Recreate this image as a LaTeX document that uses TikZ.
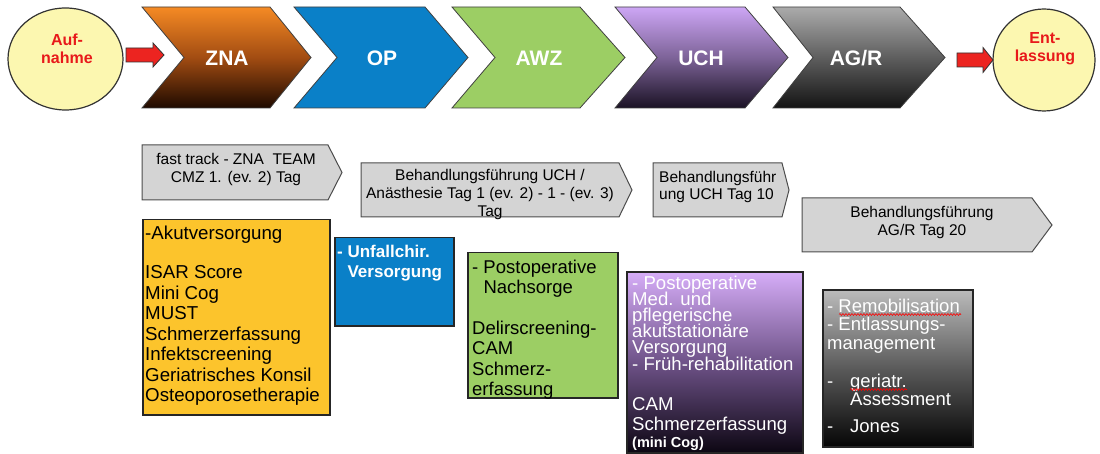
\documentclass[tikz,border=0pt]{standalone}
\usepackage{fontspec}
\setmainfont{Liberation Sans}
\usetikzlibrary{shapes.geometric,decorations.pathmorphing}
\newcommand\tightlines{\lineskiplimit=-20pt\relax}
\definecolor{ellfill}{HTML}{FCF7B0}
\definecolor{redarrow}{HTML}{EC2420}
\definecolor{redtext}{HTML}{E8191A}
\definecolor{znaTop}{HTML}{F58A24}
\definecolor{znaMid}{HTML}{A24C12}
\definecolor{znaBot}{HTML}{1E0A00}
\definecolor{opBlue}{HTML}{0A80C8}
\definecolor{awzGreen}{HTML}{9CCE64}
\definecolor{uchTop}{HTML}{CDA6F5}
\definecolor{uchMid}{HTML}{7D6398}
\definecolor{uchBot}{HTML}{1A1224}
\definecolor{agrTop}{HTML}{ABABAB}
\definecolor{agrMid}{HTML}{5E5E5E}
\definecolor{agrBot}{HTML}{141414}
\definecolor{graybox}{HTML}{D4D4D4}
\definecolor{yellowbox}{HTML}{FCC42C}
\definecolor{purpTop}{HTML}{D6ADF8}
\definecolor{purpMid}{HTML}{6E5288}
\definecolor{purpBot}{HTML}{0C0612}
\definecolor{blkTop}{HTML}{BBBBBB}
\definecolor{blkMid}{HTML}{5A5A5A}
\definecolor{blkBot}{HTML}{050505}
\begin{document}
\begin{tikzpicture}[x=1pt,y=-1pt,
  chevline/.style={draw=black!75, line width=0.8pt},
  chevlabel/.style={text=white, font=\bfseries\fontsize{21}{24}\selectfont, inner sep=0},
  ell/.style={draw=black!80, line width=1.2pt, fill=ellfill, ellipse, inner sep=0},
  elltext/.style={text=redtext, font=\bfseries\fontsize{16}{18}\selectfont, align=center, inner sep=0},
  blockarrow/.style={draw=black!80, line width=0.8pt, fill=redarrow},
  pent/.style={draw=black!70, fill=graybox, line width=1pt},
  penttext/.style={font=\fontsize{15.5}{18}\selectfont, align=center, inner sep=0},
  infobox/.style={draw=black!85, line width=1.5pt, inner sep=0, anchor=north west},
  infotext/.style={font=\fontsize{18.7}{20.5}\selectfont, align=left, inner sep=0, anchor=north west},
  squiggle/.style={draw=red, line width=0.6pt, decorate, decoration={snake, amplitude=0.9pt, segment length=3pt}}
]
\useasboundingbox (0,0) rectangle (1100,454);

% start / end ellipses
\node[ell, minimum width=115, minimum height=102] (auf) at (65.5,59) {};
\node[elltext] (aufT) at (67,49) {Auf-\\nahme};
\node[ell, minimum width=102, minimum height=102] (ent) at (1044,60) {};
\node[elltext] (entT) at (1045,49) {Ent-\\lassung};

% red block arrows
\path[blockarrow] (126,48) -- (153,48) -- (153,43) -- (164,55) -- (153,67) -- (153,62) -- (126,62) -- cycle;
\path[blockarrow] (957,53) -- (983,53) -- (983,47.5) -- (993,60) -- (983,72.5) -- (983,67) -- (957,67) -- cycle;

% chevrons
\path[chevline, top color=znaTop, bottom color=znaBot, middle color=znaMid]
  (142,7) -- (270,7) -- (311,57.5) -- (270,108) -- (142,108) -- (184,57.5) -- cycle;
\path[chevline, fill=opBlue]
  (294,7) -- (425,7) -- (468,57.5) -- (425,108) -- (294,108) -- (337,57.5) -- cycle;
\path[chevline, fill=awzGreen]
  (452,7) -- (580,7) -- (625,57.5) -- (580,108) -- (452,108) -- (495,57.5) -- cycle;
\path[chevline, top color=uchTop, bottom color=uchBot, middle color=uchMid]
  (615,7) -- (745,7) -- (788,57.5) -- (745,108) -- (615,108) -- (657,57.5) -- cycle;
\path[chevline, top color=agrTop, bottom color=agrBot, middle color=agrMid]
  (773,7) -- (900,7) -- (945,57.5) -- (900,108) -- (773,108) -- (813,57.5) -- cycle;

\node[chevlabel] (zna) at (227,58) {ZNA};
\node[chevlabel] (op) at (382,58) {OP};
\node[chevlabel] (awz) at (539,58) {AWZ};
\node[chevlabel] (uch) at (701,58) {UCH};
\node[chevlabel] (agr) at (856,58) {AG/R};

% gray pentagon boxes
\path[pent] (142,145) -- (328,145) -- (342,172.5) -- (328,200) -- (142,200) -- cycle;
\node[penttext] (p1) at (236,169.5) {fast track - ZNA\ \ TEAM\\CMZ 1. (ev. 2) Tag};
\path[pent] (361,163) -- (619,163) -- (632,190) -- (619,217) -- (361,217) -- cycle;
\node[penttext] (p2) at (490,194.5) {Behandlungsführung UCH /\\Anästhesie Tag 1 (ev. 2) - 1 - (ev. 3)\\Tag};
\path[pent] (653,163) -- (782,163) -- (789,190) -- (782,217) -- (653,217) -- cycle;
\node[penttext, align=left, anchor=north west, font=\fontsize{15.5}{16.5}\selectfont] (p3) at (659,171.2) {Behandlungsführ\\ung UCH Tag 10};
\path[pent] (802,198) -- (1032,198) -- (1052,225) -- (1032,252) -- (802,252) -- cycle;
\node[penttext] (p4) at (922,222.5) {Behandlungsführung\\AG/R Tag 20};

% info boxes
\node[infobox, fill=yellowbox, minimum width=187, minimum height=195] (yb) at (142,219) {};
\node[infotext] (ybT) at (145,226) {-Akutversorgung\\[18.5pt]ISAR Score\\Mini Cog\\MUST\\Schmerzerfassung\\Infektscreening\\Geriatrisches Konsil\\Osteoporosetherapie};

\node[infobox, fill=opBlue, minimum width=119, minimum height=88] (bb) at (334,237) {};
\node[infotext, text=white, font=\bfseries\fontsize{17}{20}\selectfont] (bbT) at (337,245) {- Unfallchir.\\\phantom{- }Versorgung};

\node[infobox, fill=awzGreen, minimum width=150, minimum height=145] (gb) at (467,252) {};
\node[infotext, font=\fontsize{18.5}{20}\selectfont] (gbT) at (472,260) {- Postoperative\\\phantom{- }Nachsorge\\[21pt]Delirscreening-\\CAM\\[1pt]Schmerz-\\erfassung};

\path[draw=black!85, line width=1.5pt, top color=purpTop, bottom color=purpBot, middle color=purpMid] (627,272) rectangle (803,453);
\node[infotext, text=white, font=\fontsize{18.6}{16}\selectfont\tightlines] (pbT) at (632,275.5) {- Postoperative\\Med. und\\pflegerische\\akutstationäre\\Versorgung\\[1pt]- Früh-rehabilitation\\[24pt]CAM\\[4pt]Schmerzerfassung\\[1.5pt]{\bfseries\fontsize{14.5}{16}\selectfont (mini Cog)}};

\path[draw=black!85, line width=1.5pt, top color=blkTop, bottom color=blkBot, middle color=blkMid] (823,290) rectangle (973,447);
\node[infotext, text=white, font=\fontsize{18.5}{18}\selectfont\tightlines] (kbT) at (827,298.5) {- Remobilisation\\- Entlassungs-\\[1pt]management\\[20pt]\makebox[23pt][l]{-}geriatr.\\\hspace*{23pt}Assessment\\[9pt]\makebox[23pt][l]{-}Jones};
\path[squiggle] (839,314.5) -- (961,314.5);
\path[squiggle] (850,389.5) -- (907,389.5);
\end{tikzpicture}
\end{document}
